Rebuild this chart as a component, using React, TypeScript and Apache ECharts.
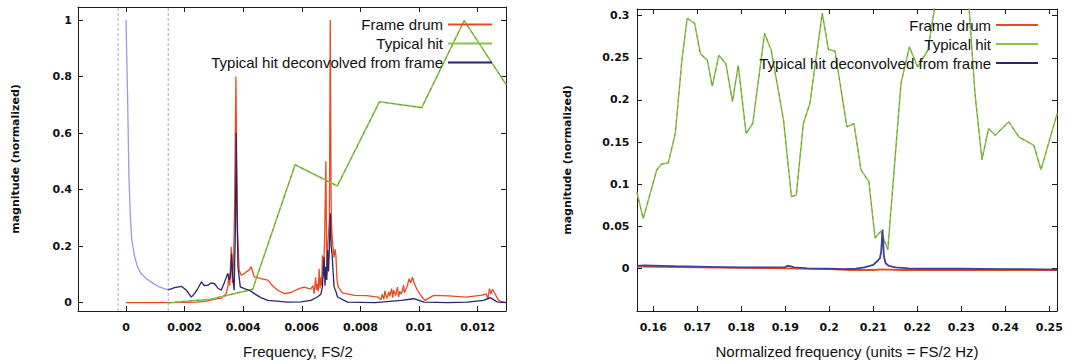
import React, { useEffect, useRef } from 'react';
import * as echarts from 'echarts';

// ---------- tick values ----------
const leftXTicks = [0, 0.002, 0.004, 0.006, 0.008, 0.01, 0.012];
const leftYTicks = [0, 0.2, 0.4, 0.6, 0.8, 1];
const rightXTicks = [0.16, 0.17, 0.18, 0.19, 0.2, 0.21, 0.22, 0.23, 0.24, 0.25];
const rightYTicks = [0, 0.05, 0.1, 0.15, 0.2, 0.25, 0.3];

const legendNames = ['Frame drum', 'Typical hit', 'Typical hit deconvolved from frame'];

// axis ranges
const leftXRange = [-0.001638, 0.012966];
const leftYRange = [-0.0294, 1.046];
const rightXRange = [0.1563, 0.25175];
const rightYRange = [-0.0507, 0.308];

// ---------- left panel data ----------
const drumFreqL = [0, 0.0005, 0.001, 0.0015, 0.002, 0.0024, 0.0027, 0.003, 0.00325, 0.00342, 0.00348, 0.00351, 0.00354, 0.00359, 0.00363, 0.00367, 0.0037, 0.00375, 0.00378, 0.00381, 0.00386, 0.00393, 0.004, 0.0041, 0.0042, 0.00427, 0.00438, 0.0046, 0.00484, 0.005, 0.00518, 0.0054, 0.00563, 0.0059, 0.00608, 0.0063, 0.00638, 0.00642, 0.00647, 0.0065, 0.00653, 0.00656, 0.00659, 0.00662, 0.00665, 0.00668, 0.0067, 0.00674, 0.00678, 0.00682, 0.00685, 0.00688, 0.00691, 0.00694, 0.00697, 0.007, 0.00702, 0.00706, 0.0071, 0.00713, 0.00716, 0.0072, 0.00724, 0.00738, 0.0075, 0.0078, 0.0082, 0.0086, 0.0087, 0.00874, 0.0088, 0.00883, 0.0089, 0.00897, 0.009, 0.00906, 0.0091, 0.00913, 0.0092, 0.00926, 0.0093, 0.00934, 0.0094, 0.00947, 0.0095, 0.0096, 0.00966, 0.00972, 0.00977, 0.00985, 0.00994, 0.0101, 0.0102, 0.0105, 0.011, 0.0116, 0.0121, 0.0123, 0.01235, 0.0124, 0.01245, 0.0125, 0.0126, 0.0127, 0.0128, 0.01297];
const drumMagL = [0, 0, 0, 0, 0.001, 0.002, 0.005, 0.012, 0.016, 0.032, 0.06, 0.103, 0.06, 0.198, 0.07, 0.15, 0.3, 0.8, 0.45, 0.245, 0.115, 0.097, 0.1, 0.109, 0.115, 0.127, 0.091, 0.085, 0.08, 0.06, 0.044, 0.032, 0.036, 0.05, 0.055, 0.048, 0.06, 0.032, 0.09, 0.045, 0.067, 0.04, 0.12, 0.05, 0.09, 0.06, 0.168, 0.09, 0.245, 0.5, 0.1, 0.2, 0.245, 0.3, 1.0, 0.35, 0.257, 0.2, 0.16, 0.19, 0.17, 0.08, 0.056, 0.035, 0.032, 0.026, 0.025, 0.02, 0.01, 0.03, 0.012, 0.042, 0.015, 0.038, 0.022, 0.05, 0.018, 0.045, 0.025, 0.055, 0.02, 0.04, 0.03, 0.062, 0.035, 0.06, 0.085, 0.07, 0.09, 0.065, 0.044, 0.02, 0.008, 0.026, 0.024, 0.02, 0.026, 0.03, 0.012, 0.05, 0.03, 0.048, 0.03, 0.01, 0.004, 0];

const hitFreqL = [0.00144, 0.00288, 0.00432, 0.00577, 0.00721, 0.00865, 0.01009, 0.01154, 0.01298];
const hitMagL = [0, 0.012, 0.047, 0.488, 0.413, 0.711, 0.69, 0.998, 0.77];

const deconFreqL = [0.00144, 0.00166, 0.00189, 0.00206, 0.00223, 0.00234, 0.00245, 0.00257, 0.00268, 0.0028, 0.0029, 0.00302, 0.00315, 0.00325, 0.00335, 0.00347, 0.00352, 0.00356, 0.00361, 0.00364, 0.00369, 0.00373, 0.00376, 0.00379, 0.00382, 0.0039, 0.00404, 0.00421, 0.00438, 0.0046, 0.00484, 0.00552, 0.00597, 0.00631, 0.00653, 0.00665, 0.0067, 0.00676, 0.00679, 0.00682, 0.00685, 0.00688, 0.00691, 0.00694, 0.00697, 0.007, 0.00703, 0.00706, 0.0071, 0.00716, 0.00722, 0.00756, 0.0085, 0.009, 0.0094, 0.00982, 0.01017, 0.011, 0.01164, 0.0122, 0.01243, 0.01266, 0.01297];
const deconMagL = [0.045, 0.053, 0.058, 0.044, 0.02, 0.032, 0.05, 0.073, 0.06, 0.062, 0.07, 0.067, 0.05, 0.044, 0.07, 0.103, 0.08, 0.091, 0.174, 0.09, 0.044, 0.25, 0.6, 0.3, 0.127, 0.056, 0.05, 0.044, 0.032, 0.018, 0.008, 0.002, 0.003, 0.008, 0.02, 0.03, 0.056, 0.162, 0.06, 0.127, 0.08, 0.186, 0.11, 0.2, 0.316, 0.2, 0.174, 0.12, 0.056, 0.04, 0.02, 0.002, 0, 0.005, 0.008, 0.014, 0.002, 0, 0.002, 0.008, 0.018, 0.003, 0];

const fadedFreqL = [0, 0.00005, 0.0001, 0.00015, 0.0002, 0.0003, 0.0004, 0.0005, 0.0007, 0.0009, 0.0011, 0.0013, 0.00144];
const fadedMagL = [1.0, 0.75, 0.45, 0.3, 0.22, 0.16, 0.125, 0.105, 0.085, 0.07, 0.058, 0.05, 0.045];

const boxEdgesL = [-0.00027, 0.00144];

// ---------- right panel data ----------
const hitFreqR = [0.1563, 0.1577, 0.1608, 0.1619, 0.1634, 0.165, 0.1665, 0.1677, 0.1694, 0.1707, 0.1723, 0.1734, 0.1749, 0.1765, 0.178, 0.1793, 0.1811, 0.1826, 0.1853, 0.1868, 0.1896, 0.1914, 0.1925, 0.1941, 0.1956, 0.1984, 0.1998, 0.2013, 0.204, 0.2056, 0.2072, 0.209, 0.2104, 0.2117, 0.2133, 0.2163, 0.2182, 0.2201, 0.2224, 0.2255, 0.2285, 0.2315, 0.2331, 0.2347, 0.2362, 0.2377, 0.2408, 0.2431, 0.2465, 0.2481, 0.2518];
const hitMagR = [0.09, 0.059, 0.117, 0.124, 0.125, 0.16, 0.247, 0.297, 0.291, 0.255, 0.247, 0.216, 0.253, 0.243, 0.198, 0.241, 0.16, 0.172, 0.279, 0.259, 0.176, 0.085, 0.087, 0.172, 0.196, 0.303, 0.26, 0.258, 0.168, 0.172, 0.117, 0.103, 0.036, 0.044, 0.022, 0.22, 0.263, 0.239, 0.259, 0.36, 0.42, 0.33, 0.208, 0.129, 0.166, 0.158, 0.174, 0.156, 0.146, 0.117, 0.184];

const drumFreqR = [0.1563, 0.165, 0.18, 0.19, 0.2, 0.205, 0.21, 0.212, 0.216, 0.22, 0.23, 0.24, 0.2518];
const drumMagR = [0.002, 0.0015, 0.0005, 0, -0.001, -0.002, -0.002, -0.0012, -0.002, -0.002, -0.002, -0.002, -0.002];

const deconFreqR = [0.1563, 0.158, 0.162, 0.165, 0.17, 0.175, 0.18, 0.185, 0.19, 0.1905, 0.191, 0.192, 0.195, 0.2, 0.203, 0.206, 0.208, 0.21, 0.211, 0.2115, 0.2118, 0.2121, 0.2124, 0.2128, 0.2135, 0.215, 0.218, 0.22, 0.23, 0.24, 0.245, 0.2518];
const deconMagR = [0.003, 0.0035, 0.003, 0.0025, 0.002, 0.0015, 0.001, 0.001, 0.0015, 0.003, 0.0025, 0.001, 0, -0.0005, -0.001, -0.0005, 0.001, 0.004, 0.009, 0.012, 0.02, 0.046, 0.015, 0.006, 0.003, 0.001, 0, -0.0005, -0.0005, -0.001, -0.001, -0.0015];

// ---------- styling ----------
const RED = '#ea4a22';
const GREEN = '#8cc24a';
const GREEN_DASH = '#4f6f2f';
const NAVY = '#27266f';
const BLUE_R = '#40409a';
const FADED = '#9c99e4';
const BOX = '#a6a6cc';
const AXIS = '#1c1c1c';

const zip = (xs: number[], ys: number[]) => xs.map((x, i) => [x, ys[i]]);
const fmt = (v: number) => String(+v.toFixed(4));

function makeXAxes(grid: number, range: number[], ticks: number[], name: string, shift: number) {
  const base = {
    type: 'value', gridIndex: grid, min: range[0], max: range[1],
    splitLine: { show: false },
    axisLine: { show: true, onZero: false, lineStyle: { color: AXIS, width: 1 } },
    axisTick: { show: true, inside: true, length: 5, customValues: ticks, lineStyle: { color: AXIS } },
  };
  return [
    {
      ...base, position: 'bottom',
      axisLabel: { customValues: ticks, formatter: fmt, margin: 11, color: '#111', fontFamily: 'DejaVu Sans', fontWeight: 'bold', fontSize: 11 },
      name, nameLocation: 'middle', nameGap: 33,
      nameTextStyle: { fontFamily: 'Liberation Sans', fontSize: 15, color: '#111', padding: [0, 0, 0, shift] },
    },
    { ...base, position: 'top', axisLabel: { show: false } },
  ];
}

function makeYAxes(grid: number, range: number[], ticks: number[], gap: number, margin: number) {
  const base = {
    type: 'value', gridIndex: grid, min: range[0], max: range[1],
    splitLine: { show: false },
    axisLine: { show: true, onZero: false, lineStyle: { color: AXIS, width: 1 } },
    axisTick: { show: true, inside: true, length: 5, customValues: ticks, lineStyle: { color: AXIS } },
  };
  return [
    {
      ...base, position: 'left',
      axisLabel: { customValues: ticks, formatter: fmt, margin, color: '#111', fontFamily: 'DejaVu Sans', fontWeight: 'bold', fontSize: 11 },
      name: 'magnitude (normalized)', nameLocation: 'middle', nameGap: gap,
      nameTextStyle: { fontFamily: 'DejaVu Sans', fontWeight: 'bold', fontSize: 11, color: '#111' },
    },
    { ...base, position: 'right', axisLabel: { show: false } },
  ];
}

const line = (name: string, data: number[][], color: string, width: number, xi: number, yi: number, extra: any = {}) => ({
  type: 'line', name, data, xAxisIndex: xi, yAxisIndex: yi,
  showSymbol: false, symbol: 'none', color,
  lineStyle: { color, width }, silent: true, clip: true, ...extra,
});

function makeLegend(right: number, top: number, w: number) {
  return {
    data: legendNames, orient: 'vertical', right, top, align: 'right',
    itemWidth: w, itemHeight: 2, itemGap: 4, padding: 0, icon: 'rect',
    selectedMode: false,
    textStyle: { fontFamily: 'Liberation Sans', fontSize: 15, color: '#111' },
  };
}

export default function App() {
  const ref = useRef<HTMLDivElement>(null);
  useEffect(() => {
    if (!ref.current) return;
    const chart = echarts.init(ref.current, undefined, { renderer: 'svg' });
    const boxSeries = boxEdgesL.map((x, i) =>
      line('box-edge-' + i, [[x, leftYRange[0]], [x, leftYRange[1]]], BOX, 1, 0, 0, {
        lineStyle: { color: BOX, width: 1, type: [3, 2] }, z: 1,
      })
    );
    const option: any = {
      animation: false,
      backgroundColor: '#ffffff',
      grid: [
        { left: 78, top: 7, width: 428, height: 304 },
        { left: 637, top: 9, width: 420, height: 302 },
      ],
      xAxis: [
        ...makeXAxes(0, leftXRange, leftXTicks, 'Frequency, FS/2', 12),
        ...makeXAxes(1, rightXRange, rightXTicks, 'Normalized frequency (units = FS/2 Hz)', 0),
      ],
      yAxis: [
        ...makeYAxes(0, leftYRange, leftYTicks, 57, 6),
        ...makeYAxes(1, rightYRange, rightYTicks, 64, 7.5),
      ],
      legend: [makeLegend(574, 17, 44), makeLegend(28, 17.5, 42)],
      series: [
        // left panel
        ...boxSeries,
        line('faded', zip(fadedFreqL, fadedMagL), FADED, 1.3, 0, 0),
        line('Frame drum', zip(drumFreqL, drumMagL), RED, 1.3, 0, 0),
        line('Typical hit', zip(hitFreqL, hitMagL), GREEN, 1.6, 0, 0),
        line('hit-dash-l', zip(hitFreqL, hitMagL), GREEN_DASH, 0.8, 0, 0, { lineStyle: { color: GREEN_DASH, width: 0.8, type: [3, 4], opacity: 0.6 } }),
        line('Typical hit deconvolved from frame', zip(deconFreqL, deconMagL), NAVY, 1.3, 0, 0),
        // right panel
        line('Typical hit', zip(hitFreqR, hitMagR), GREEN, 1.5, 2, 2),
        line('hit-dash-r', zip(hitFreqR, hitMagR), GREEN_DASH, 0.8, 2, 2, { lineStyle: { color: GREEN_DASH, width: 0.8, type: [3, 4], opacity: 0.6 } }),
        line('Frame drum', zip(drumFreqR, drumMagR), RED, 1.8, 2, 2),
        line('Typical hit deconvolved from frame', zip(deconFreqR, deconMagR), BLUE_R, 1.8, 2, 2),
      ],
    };
    chart.setOption(option);
    return () => chart.dispose();
  }, []);
  return <div ref={ref} style={{ position: 'absolute', left: 0, top: 0, width: 1066, height: 364 }} />;
}
